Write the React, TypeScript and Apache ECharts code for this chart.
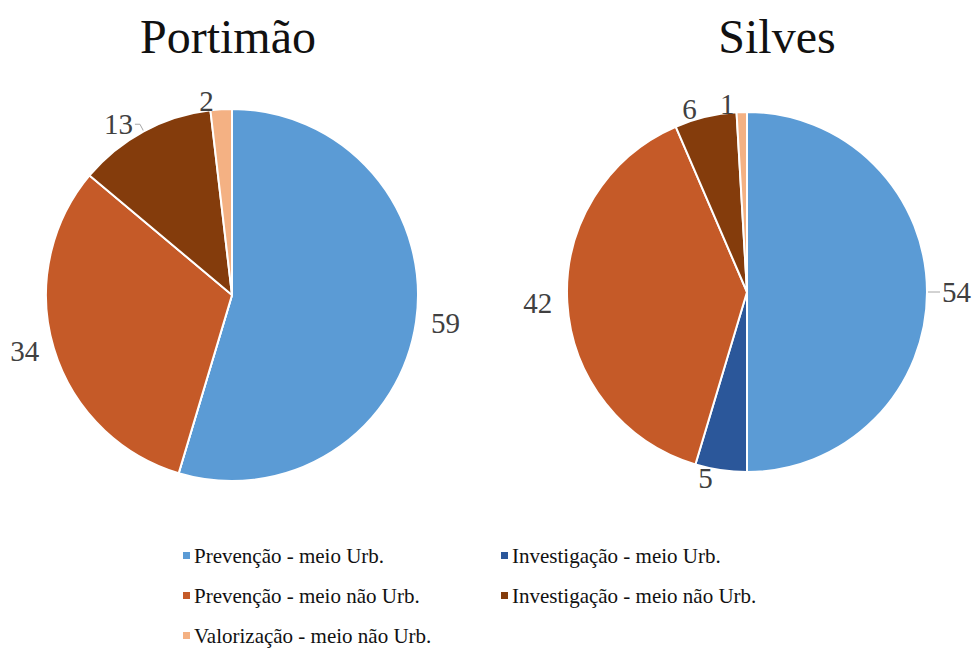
import React, { useEffect, useRef } from "react";
import * as echarts from "echarts";

const categories = [
  "Prevenção - meio Urb.",
  "Investigação - meio Urb.",
  "Prevenção - meio não Urb.",
  "Investigação - meio não Urb.",
  "Valorização - meio não Urb.",
];
const colors = ["#5B9BD5", "#2B579A", "#C55A28", "#843C0C", "#F4B183"];
const portimaoValues = [59, 0, 34, 13, 2];
const silvesValues = [54, 5, 42, 6, 1];
const titles = ["Portimão", "Silves"];

const FONT = "Liberation Serif";

function buildData(values: number[], lineIdx: number[]) {
  return values.map((v, i) => ({
    name: categories[i],
    value: v,
    itemStyle: { color: colors[i] },
    label: { show: v > 0 },
    labelLine: { show: v > 0 && lineIdx.includes(i) },
  }));
}

export default function App() {
  const ref = useRef<HTMLDivElement>(null);
  useEffect(() => {
    if (!ref.current) return;
    const chart = echarts.init(ref.current, undefined, { renderer: "svg" });
    const pieCommon = {
      type: "pie" as const,
      startAngle: 90,
      clockwise: true,
      avoidLabelOverlap: false,
      itemStyle: { borderColor: "#ffffff", borderWidth: 2 },
      label: {
        show: true,
        position: "outside",
        formatter: "{c}",
        fontFamily: FONT,
        fontSize: 29,
        color: "#404040",
        distanceToLabelLine: 2,
      },
      labelLine: {
        length: 8,
        length2: 5,
        lineStyle: { color: "#a6a6a6", width: 1 },
      },
      emphasis: { disabled: true },
    };
    chart.setOption({
      animation: false,
      backgroundColor: "#ffffff",
      textStyle: { fontFamily: FONT },
      title: [
        {
          text: titles[0],
          left: 223,
          top: 7,
          textAlign: "center",
          textStyle: { fontFamily: FONT, fontSize: 48, fontWeight: "normal", color: "#111" },
        },
        {
          text: titles[1],
          left: 772,
          top: 7,
          textAlign: "center",
          textStyle: { fontFamily: FONT, fontSize: 48, fontWeight: "normal", color: "#111" },
        },
      ],
      legend: [
        {
          orient: "vertical",
          left: 176,
          top: 540,
          itemWidth: 9,
          itemHeight: 9,
          itemGap: 19,
          icon: "rect",
          selectedMode: false,
          data: [categories[0], categories[2], categories[4]],
          textStyle: { fontFamily: FONT, fontSize: 21, color: "#111", padding: [0, 0, 0, -2] },
        },
        {
          orient: "vertical",
          left: 494,
          top: 540,
          itemWidth: 9,
          itemHeight: 9,
          itemGap: 19,
          icon: "rect",
          selectedMode: false,
          data: [categories[1], categories[3]],
          textStyle: { fontFamily: FONT, fontSize: 21, color: "#111", padding: [0, 0, 0, -2] },
        },
      ],
      series: [
        {
          ...pieCommon,
          name: titles[0],
          center: [232, 295],
          radius: 186,
          data: buildData(portimaoValues, [3]),
        },
        {
          ...pieCommon,
          name: titles[1],
          center: [747, 292],
          radius: 180,
          data: buildData(silvesValues, [0]),
        },
      ],
    });
    return () => chart.dispose();
  }, []);
  return (
    <div
      ref={ref}
      style={{ position: "fixed", left: 0, top: 0, width: 979, height: 651, background: "#fff" }}
    />
  );
}
